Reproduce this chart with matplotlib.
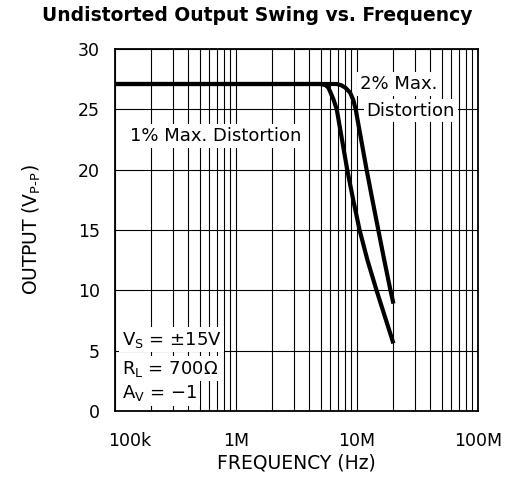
import matplotlib
matplotlib.use("Agg")
import matplotlib.pyplot as plt
from matplotlib.ticker import LogLocator, NullFormatter
from matplotlib.transforms import ScaledTranslation

# output swing vs frequency, 1% and 2% max distortion
FREQ_1PCT = [1e5, 5.0e6, 5.5e6, 5.8e6, 6.1e6, 6.4e6, 6.8e6, 8.3e6, 9.3e6, 10.5e6, 12.2e6, 14.5e6, 20e6]
VOUT_1PCT = [27.1, 27.1, 27.0, 26.8, 26.3, 25.8, 25.0, 20.0, 17.5, 15.0, 12.5, 10.0, 5.6]
FREQ_2PCT = [1e5, 6.8e6, 7.4e6, 8.0e6, 8.75e6, 9.3e6, 9.75e6, 12.0e6, 13.4e6, 15.0e6, 16.8e6, 18.9e6, 20e6]
VOUT_2PCT = [27.1, 27.1, 27.0, 26.8, 26.4, 25.8, 25.0, 20.0, 17.5, 15.0, 12.5, 10.0, 8.9]

XTICKS = [1e5, 1e6, 1e7, 1e8]
XLABELS = ["100k", "1M", "10M", "100M"]
YTICKS = [0, 5, 10, 15, 20, 25, 30]

plt.rcParams["font.family"] = ["DejaVu Sans"]
plt.rcParams["mathtext.default"] = "regular"

fig = plt.figure(figsize=(5.14, 4.95), dpi=100)
ax = fig.add_axes([0.2237, 0.1697, 0.7063, 0.7313])

for f, v in [(FREQ_1PCT, VOUT_1PCT), (FREQ_2PCT, VOUT_2PCT)]:
    ax.plot(f, v, color="black", lw=3, zorder=4, solid_capstyle="butt", solid_joinstyle="round")

ax.set_xscale("log")
ax.set_xlim(1e5, 1e8)
ax.set_ylim(0, 30)
ax.set_xticks(XTICKS)
ax.set_xticklabels(XLABELS)
ax.xaxis.set_minor_locator(LogLocator(base=10, subs=range(2, 10)))
ax.xaxis.set_minor_formatter(NullFormatter())
ax.set_yticks(YTICKS)
ax.tick_params(which="both", length=0, labelsize=12.5, pad=15)
ax.tick_params(axis="y", pad=11)
ax.set_axisbelow(True)
ax.grid(which="both", axis="x", color="black", lw=0.8)
ax.grid(which="major", axis="y", color="black", lw=0.8)
for s in ax.spines.values():
    s.set_linewidth(1.3)

# nudge the first frequency label clear of the y labels
lbl = ax.get_xticklabels()[0]
lbl.set_transform(lbl.get_transform() + ScaledTranslation(0.15, 0, fig.dpi_scale_trans))

ax.set_xlabel("FREQUENCY (Hz)", fontsize=13.5, labelpad=3)
ax.set_ylabel(r"OUTPUT ($V_{P\text{-}P}$)", fontsize=13.5, labelpad=25)
fig.text(0.5, 0.968, "Undistorted Output Swing vs. Frequency", ha="center", va="center",
         fontsize=13.5, fontweight="bold")

def note(x, y, s, va="center"):
    ax.text(x, y, s, fontsize=13, va=va, ha="left", zorder=1,
            bbox=dict(facecolor="white", edgecolor="none", pad=2))

note(1.33e5, 22.8, "1% Max. Distortion")
note(1.06e7, 27.1, "2% Max.")
note(1.2e7, 24.9, "Distortion")
note(1.14e5, 5.5, "$V_S$ = ±15V", va="baseline")
note(1.14e5, 3.1, "$R_L$ = 700Ω", va="baseline")
note(1.14e5, 1.05, "$A_V$ = −1", va="baseline")

fig.savefig("out.png", dpi=100)
